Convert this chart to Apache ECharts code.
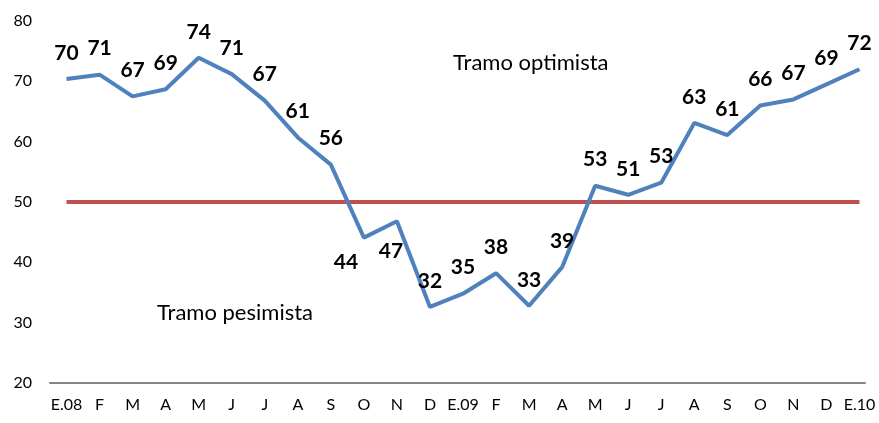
<!DOCTYPE html>
<html>
<head>
<meta charset="utf-8">
<script src="https://cdn.jsdelivr.net/npm/echarts@6/dist/echarts.min.js"></script>
<style>
  html, body { margin: 0; padding: 0; background: #fff; }
  #chart { width: 879px; height: 423px; }
</style>
</head>
<body>
<div id="chart"></div>
<script>
var months = ['E.08', 'F', 'M', 'A', 'M', 'J', 'J', 'A', 'S', 'O', 'N', 'D',
	'E.09', 'F', 'M', 'A', 'M', 'J', 'J', 'A', 'S', 'O', 'N', 'D', 'E.10'];
var indice = [70.4, 71.1, 67.5, 68.7, 73.9, 71.2, 66.8, 60.7, 56.2, 44.1, 46.8, 32.6,
	34.8, 38.2, 32.8, 39.2, 52.7, 51.2, 53.2, 63.1, 61.1, 66.0, 67.0, 69.5, 72.0];
var etiquetas = ['70', '71', '67', '69', '74', '71', '67', '61', '56', '44', '47', '32',
	'35', '38', '33', '39', '53', '51', '53', '63', '61', '66', '67', '69', '72'];
var umbral = 50;
var yTicks = { min: 20, max: 80, interval: 10 };

var fontName = 'Lato, "Open Sans", sans-serif';

var lineData = [];
for (var i = 0; i < indice.length; i++) {
	var item = { value: indice[i], label: { formatter: etiquetas[i] } };
	// these two sit under the line in the original
	if (i == 9) item.label = { formatter: etiquetas[i], position: 'bottom', distance: 14, offset: [-18, 0] };
	if (i == 10) item.label = { formatter: etiquetas[i], position: 'bottom', distance: 19, offset: [-6, 0] };
	lineData.push(item);
}
var umbralData = months.map(function() { return umbral; });

var chart = echarts.init(document.getElementById('chart'));
chart.setOption({
	animation: false,
	grid: [
		{ left: 50, right: 3, top: 21, bottom: 40 },
		{ left: 50, right: 14, top: 21, bottom: 40 }
	],
	xAxis: [
		{
			type: 'category',
			data: months,
			boundaryGap: true,
			axisLine: { show: false },
			axisTick: { show: false },
			axisLabel: { color: '#000', fontFamily: fontName, fontSize: 16, margin: 14, interval: 0 }
		},
		{
			type: 'value',
			gridIndex: 1,
			min: 0, max: 1,
			axisLine: { show: true, onZero: false, lineStyle: { color: '#868686', width: 2 } },
			axisTick: { show: false },
			axisLabel: { show: false },
			splitLine: { show: false }
		}
	],
	yAxis: [
		{
			type: 'value',
			min: yTicks.min, max: yTicks.max, interval: yTicks.interval,
			axisLine: { show: false },
			axisTick: { show: false },
			splitLine: { show: false },
			axisLabel: { color: '#000', fontFamily: fontName, fontSize: 16, margin: 18 }
		},
		{
			type: 'value', gridIndex: 1, min: 0, max: 1, show: false
		}
	],
	graphic: [
		{ type: 'text', left: 453, top: 52, style: { text: 'Tramo optimista', fill: '#000', font: '22px ' + fontName } },
		{ type: 'text', left: 157, top: 302, style: { text: 'Tramo pesimista', fill: '#000', font: '22px ' + fontName } }
	],
	series: [
		{
			type: 'line',
			data: umbralData,
			symbol: 'none',
			lineStyle: { color: '#C0504D', width: 4 },
			z: 2
		},
		{
			type: 'line',
			data: lineData,
			symbol: 'circle',
			symbolSize: 1,
			showSymbol: true,
			itemStyle: { color: 'rgba(0,0,0,0)' },
			lineStyle: { color: '#4F81BD', width: 4 },
			label: {
				show: true,
				position: 'top',
				distance: 15,
				color: '#000',
				fontFamily: fontName,
				fontWeight: 'bold',
				fontSize: 21
			},
			z: 3
		}
	]
});
</script>
</body>
</html>
